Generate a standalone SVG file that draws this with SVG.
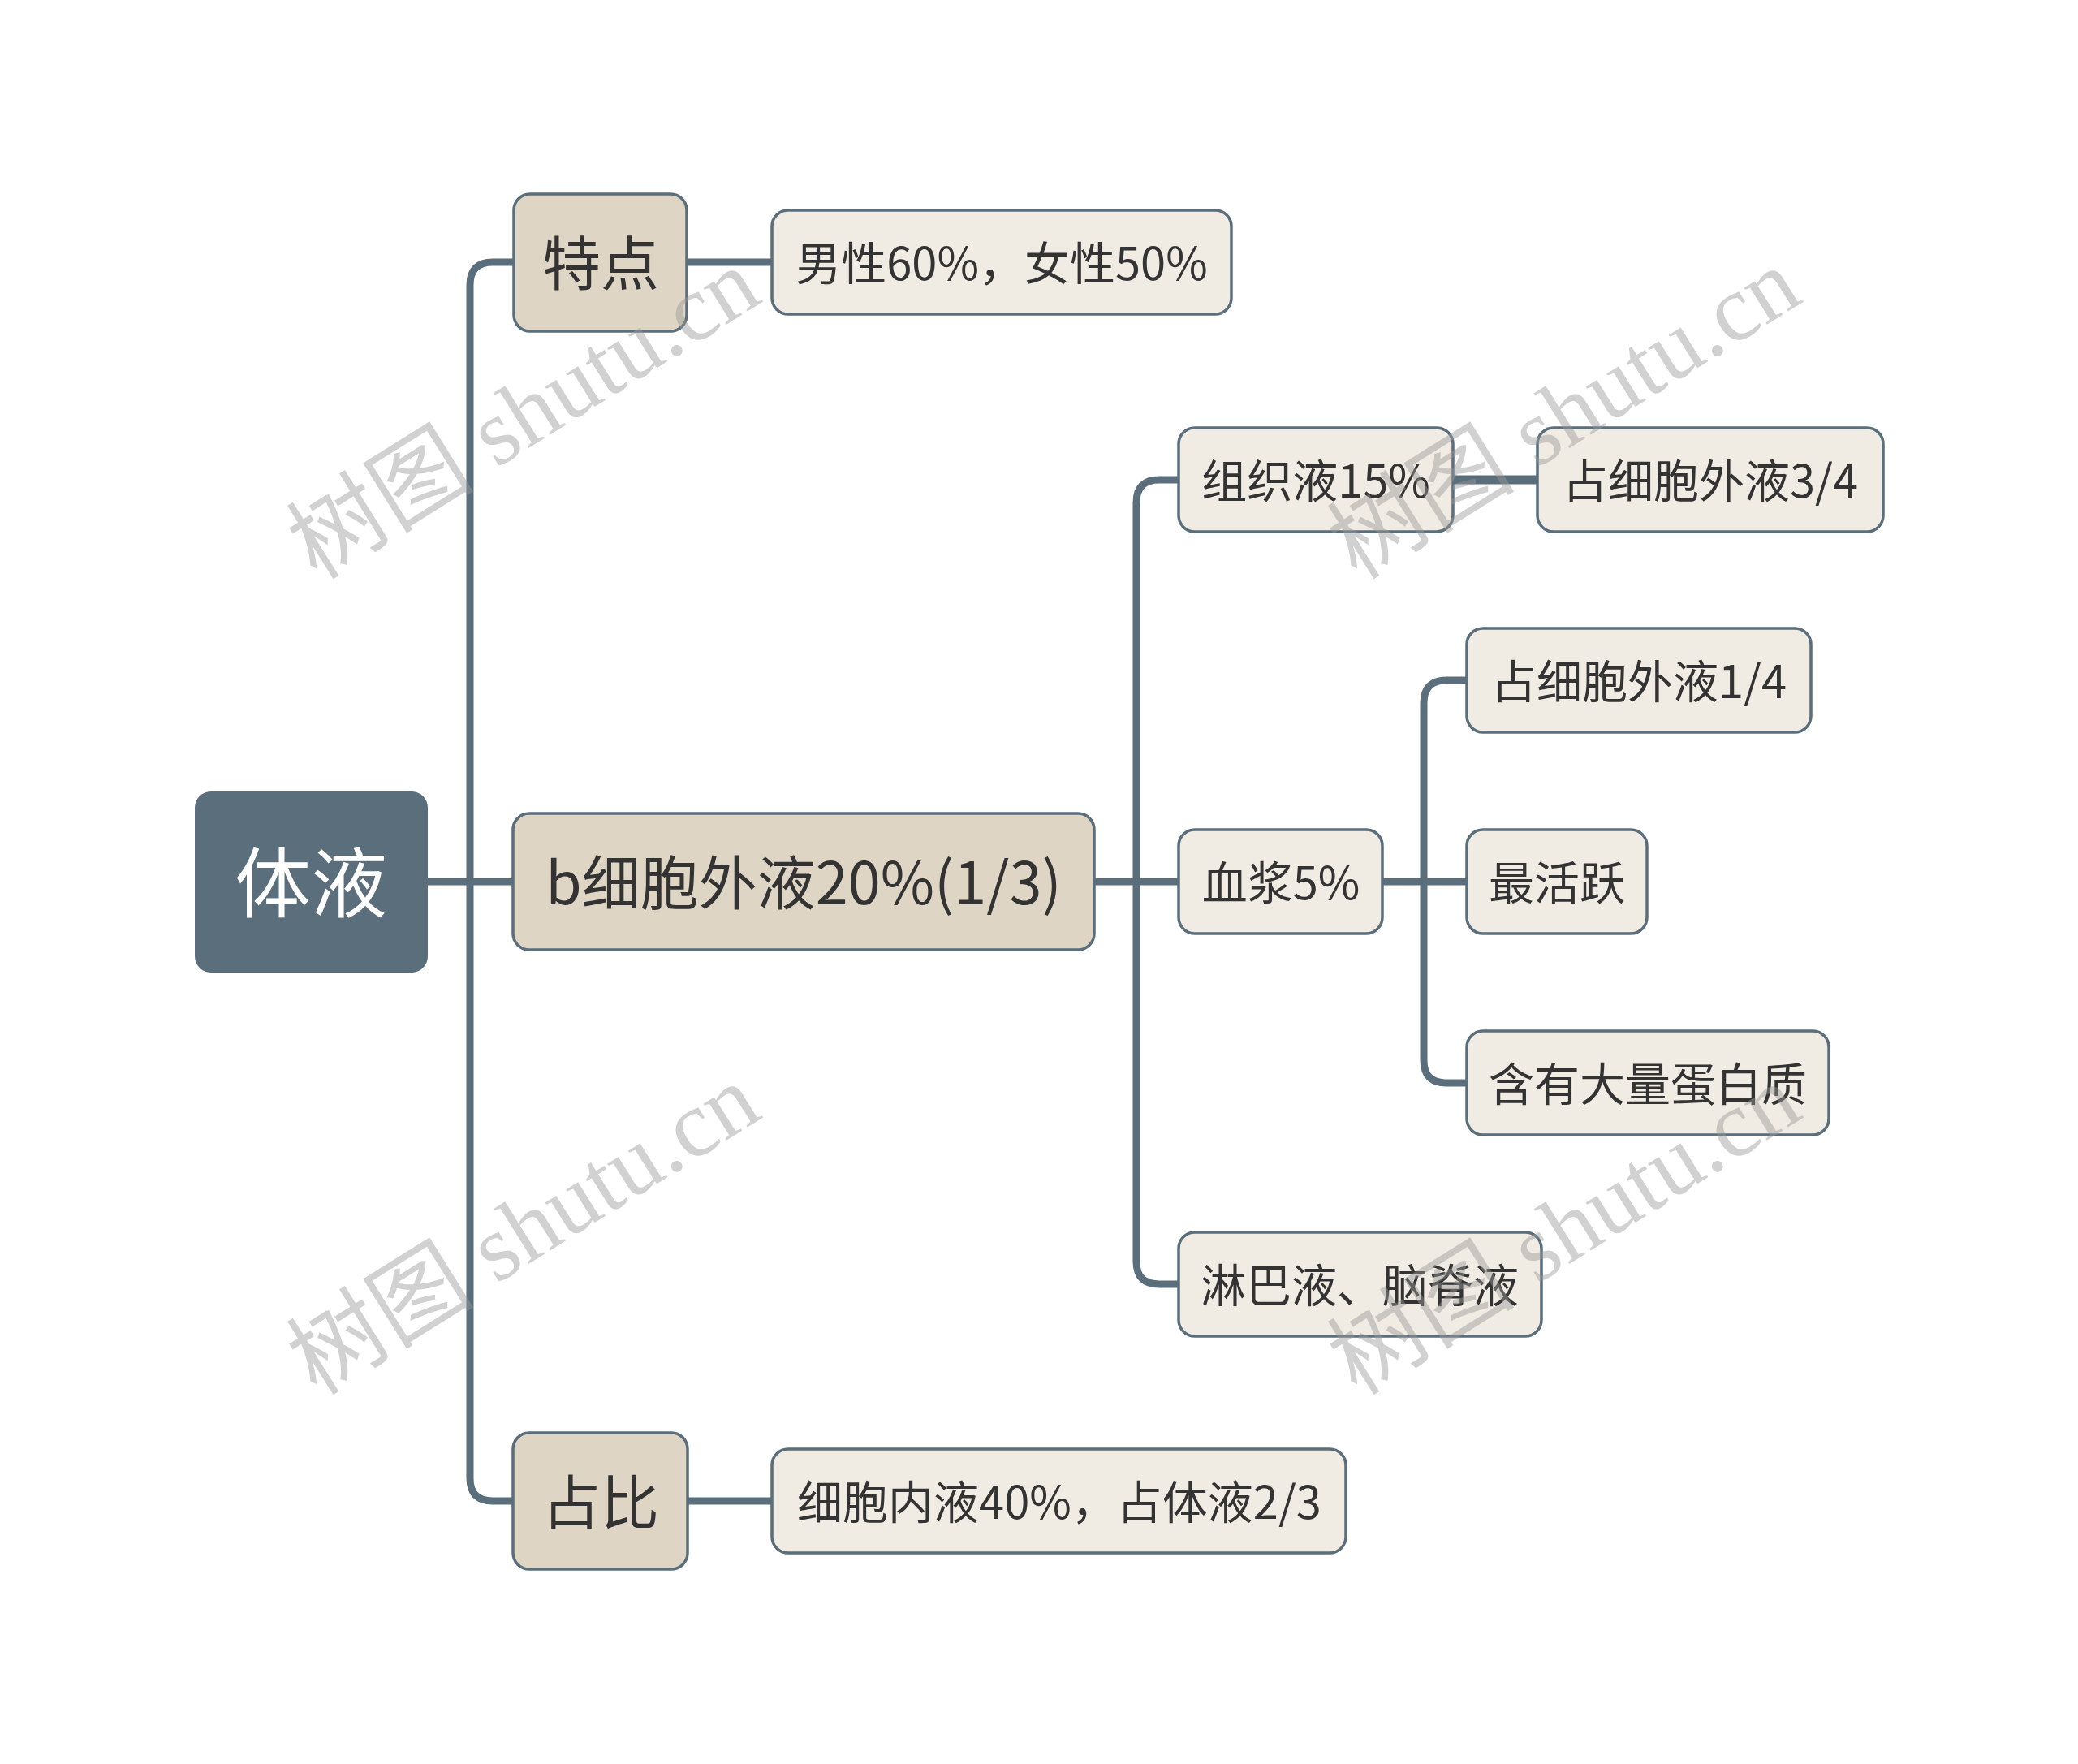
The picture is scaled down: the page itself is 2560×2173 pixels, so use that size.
<svg xmlns="http://www.w3.org/2000/svg" width="2560" height="2173" viewBox="0 0 2560 2173">
<style>
.link{fill:none;stroke:#5a6e7b;stroke-width:9;stroke-linecap:round;stroke-linejoin:round}
.l1 rect{fill:#dfd5c4;stroke:#5a6e7b;stroke-width:3.5}
.l2 rect{fill:#f0ebe3;stroke:#5a6e7b;stroke-width:3.5}
text{font-family:"Noto Sans CJK SC","Microsoft YaHei",sans-serif;text-anchor:middle;dominant-baseline:central;fill:#333333}
.l1 text{font-size:72px}
.l2 text{font-size:56px}
.wm{font-family:"Liberation Serif","Noto Sans CJK SC",serif;font-size:116px;fill:#9a9a9a;fill-opacity:0.45;text-anchor:middle;dominant-baseline:central}
</style>
<rect width="2560" height="2173" fill="#ffffff"/>
<g id="connectors">
<path class="link" d="M527 1086 H632"/>
<path class="link" d="M846 323 H607 Q579 323 579 351 V1821 Q579 1849 607 1849 H847"/>
<path class="link" d="M846 323 H951"/>
<path class="link" d="M847 1849 H951"/>
<path class="link" d="M1348 1086 H1452"/>
<path class="link" d="M1452 591 H1428 Q1400 591 1400 619 V1554 Q1400 1582 1428 1582 H1452"/>
<path class="link" d="M1790 591 H1894" style="stroke-width:11"/>
<path class="link" d="M1703 1086 H1807"/>
<path class="link" d="M1807 838 H1782 Q1754 838 1754 866 V1306 Q1754 1334 1782 1334 H1807"/>
</g>
<g id="root">
<rect x="240" y="975" width="287" height="223" rx="20" fill="#5a6e7b"/>
<text x="383" y="1082" style="font-size:94px;fill:#ffffff">体液</text>
</g>
<g id="n-tedian" class="l1">
<rect x="633" y="239" width="213" height="169" rx="20"/>
<text x="740" y="319">特点</text>
</g>
<g id="n-xibaowaiye" class="l1">
<rect x="632" y="1002" width="716" height="168" rx="20"/>
<text x="990" y="1082">b细胞外液20%(1/3)</text>
</g>
<g id="n-zhanbi" class="l1">
<rect x="632" y="1765" width="215" height="168" rx="20"/>
<text x="740" y="1845">占比</text>
</g>
<g id="n-nanxing" class="l2">
<rect x="951" y="259" width="566" height="128" rx="20"/>
<text x="1234" y="320">男性60%，女性50%</text>
</g>
<g id="n-xibaoneiye" class="l2">
<rect x="951" y="1785" width="707" height="128" rx="20"/>
<text x="1305" y="1846">细胞内液40%，占体液2/3</text>
</g>
<g id="n-zuzhiye" class="l2">
<rect x="1452" y="527" width="338" height="128" rx="20"/>
<text x="1621" y="588">组织液15%</text>
</g>
<g id="n-zhan34" class="l2">
<rect x="1894" y="527" width="426" height="128" rx="20"/>
<text x="2107" y="588">占细胞外液3/4</text>
</g>
<g id="n-xuejiang" class="l2">
<rect x="1452" y="1022" width="251" height="128" rx="20"/>
<text x="1578" y="1083">血浆5%</text>
</g>
<g id="n-zhan14" class="l2">
<rect x="1807" y="774" width="424" height="128" rx="20"/>
<text x="2019" y="835">占细胞外液1/4</text>
</g>
<g id="n-zuihuoyue" class="l2">
<rect x="1807" y="1022" width="222" height="128" rx="20"/>
<text x="1918" y="1083">最活跃</text>
</g>
<g id="n-danbaizhi" class="l2">
<rect x="1807" y="1270" width="446" height="128" rx="20"/>
<text x="2030" y="1331">含有大量蛋白质</text>
</g>
<g id="n-linbaye" class="l2">
<rect x="1452" y="1518" width="447" height="128" rx="20"/>
<text x="1675" y="1579">淋巴液、脑脊液</text>
</g>
<g id="watermarks">
<text class="wm" transform="translate(645 510) rotate(-32)">树图 shutu.cn</text>
<text class="wm" transform="translate(645 1515) rotate(-32)">树图 shutu.cn</text>
<text class="wm" transform="translate(1927 510) rotate(-32)">树图 shutu.cn</text>
<text class="wm" transform="translate(1927 1515) rotate(-32)">树图 shutu.cn</text>
</g>
</svg>
